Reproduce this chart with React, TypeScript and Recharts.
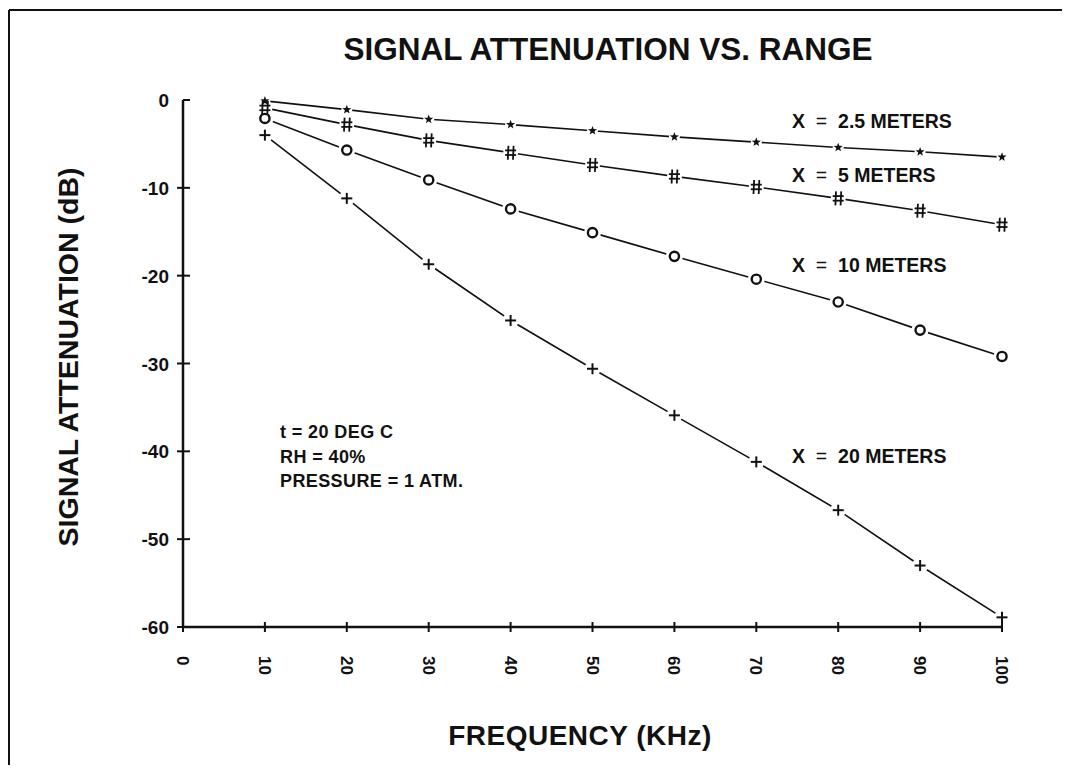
import React from 'react';
import { LineChart, Line, XAxis, YAxis } from 'recharts';

const frequencies = [10, 20, 30, 40, 50, 60, 70, 80, 90, 100];
const att2_5m = [-0.1, -1.1, -2.2, -2.8, -3.5, -4.2, -4.8, -5.4, -5.9, -6.5];
const att5m = [-0.9, -2.8, -4.6, -6.0, -7.4, -8.7, -9.9, -11.2, -12.6, -14.2];
const att10m = [-2.1, -5.7, -9.1, -12.4, -15.1, -17.8, -20.4, -23.0, -26.2, -29.2];
const att20m = [-4.0, -11.2, -18.7, -25.1, -30.6, -35.9, -41.2, -46.7, -53.0, -58.9];

const xTicks = [0, 10, 20, 30, 40, 50, 60, 70, 80, 90, 100];
const yTicks = [0, -10, -20, -30, -40, -50, -60];

const seriesLabels = ['2.5', '5', '10', '20'];
const notes = ['t = 20 DEG C', 'RH = 40%', 'PRESSURE = 1 ATM.'];

const data = frequencies.map((f, i) => ({
  f,
  a25: att2_5m[i],
  a5: att5m[i],
  a10: att10m[i],
  a20: att20m[i],
}));

const FONT = '"Liberation Sans", Arial, Helvetica, sans-serif';
const INK = '#111';

const W = 1054;
const H = 757;

function YTick(props: any) {
  const { x, y, payload } = props;
  const v = payload.value;
  return (
    <g>
      <line x1={v === 0 ? x : x - 6} x2={x + 7} y1={y} y2={y} stroke={INK} strokeWidth={2} />
      <text x={x - 14} y={y} dy={7} textAnchor="end" fontFamily={FONT} fontWeight="bold" fontSize={19} fill={INK}>
        {v}
      </text>
    </g>
  );
}

function XTick(props: any) {
  const { x, y, payload } = props;
  const v = payload.value;
  return (
    <g>
      <line x1={x} x2={x} y1={y - 5} y2={y + 5} stroke={INK} strokeWidth={2} />
      <text
        x={x}
        y={y + 29}
        transform={`rotate(90 ${x} ${y + 29})`}
        dy={6}
        textAnchor="start"
        fontFamily={FONT}
        fontWeight="bold"
        fontSize={17}
        fill={INK}
      >
        {v}
      </text>
    </g>
  );
}

function starPoints(cx: number, cy: number, ro: number, ri: number) {
  const pts: string[] = [];
  for (let k = 0; k < 10; k++) {
    const r = k % 2 === 0 ? ro : ri;
    const a = -Math.PI / 2 + (k * Math.PI) / 5;
    pts.push(`${cx + r * Math.cos(a)},${cy + r * Math.sin(a)}`);
  }
  return pts.join(' ');
}

const haloDot = (r: number, tag: string) => (p: any) => (
  <circle key={`${tag}-halo-${p.index}`} cx={p.cx} cy={p.cy} r={r} fill="#fff" stroke="none" />
);

const StarDot = (p: any) => {
  const { cx, cy, index } = p;
  return <polygon key={`star-${index}`} points={starPoints(cx, cy, 4.8, 2)} fill={INK} stroke="none" />;
};

const HashDot = (p: any) => {
  const { cx, cy, index } = p;
  return (
    <g key={`hash-${index}`} stroke={INK} strokeWidth={1.8} fill="none">
      <line x1={cx - 2.2} x2={cx - 2.8} y1={cy - 7} y2={cy + 7} />
      <line x1={cx + 3} x2={cx + 2.4} y1={cy - 7} y2={cy + 7} />
      <line x1={cx - 5.5} x2={cx + 5.5} y1={cy - 2.3} y2={cy - 2.3} />
      <line x1={cx - 5.5} x2={cx + 5.5} y1={cy + 2.3} y2={cy + 2.3} />
    </g>
  );
};

const CircleDot = (p: any) => {
  const { cx, cy, index } = p;
  return <circle key={`circ-${index}`} cx={cx} cy={cy} r={4.6} fill="#fff" stroke={INK} strokeWidth={2.4} />;
};

const PlusDot = (p: any) => {
  const { cx, cy, index } = p;
  return (
    <g key={`plus-${index}`} stroke={INK} strokeWidth={2}>
      <line x1={cx - 5.5} x2={cx + 5.5} y1={cy} y2={cy} />
      <line x1={cx} x2={cx} y1={cy - 5.5} y2={cy + 5.5} />
    </g>
  );
};

function Annotation({ x, y, value }: { x: number; y: number; value: string }) {
  return (
    <text x={x} y={y} fontFamily={FONT} fontWeight="bold" fontSize={19.5} fill={INK} style={{ whiteSpace: 'pre' }}>
      {'X  '}
      <tspan fontWeight="normal">=</tspan>
      {`  ${value} METERS`}
    </text>
  );
}

const series = [
  { key: 'a25', halo: 5.5, glyph: StarDot },
  { key: 'a5', halo: 7.5, glyph: HashDot },
  { key: 'a10', halo: 8.5, glyph: CircleDot },
  { key: 'a20', halo: 8, glyph: PlusDot },
];

export default function App() {
  return (
    <div style={{ position: 'relative', width: W, height: H, overflow: 'hidden', background: '#fff' }}>
      <LineChart
        width={W}
        height={H}
        data={data}
        margin={{ top: 92, right: 60, bottom: 38, left: 75 }}
      >
        <XAxis
          dataKey="f"
          type="number"
          domain={[0, 100]}
          ticks={xTicks}
          height={100}
          tickSize={0}
          tickMargin={0}
          tickLine={false}
          tick={<XTick />}
          axisLine={{ stroke: INK, strokeWidth: 2.5 }}
          interval={0}
        />
        <YAxis
          type="number"
          domain={[-60, 0]}
          ticks={yTicks}
          width={100}
          tickSize={0}
          tickMargin={0}
          tickLine={false}
          tick={<YTick />}
          axisLine={{ stroke: INK, strokeWidth: 2.5 }}
          interval={0}
        />
        {series.map((s) => (
          <Line
            key={`line-${s.key}`}
            dataKey={s.key}
            stroke={INK}
            strokeWidth={1.6}
            dot={haloDot(s.halo, s.key)}
            activeDot={false}
            isAnimationActive={false}
          />
        ))}
        {series.map((s) => (
          <Line
            key={`glyph-${s.key}`}
            dataKey={s.key}
            stroke="none"
            dot={s.glyph}
            activeDot={false}
            legendType="none"
            isAnimationActive={false}
          />
        ))}
      </LineChart>
      <svg
        width={W}
        height={H}
        style={{ position: 'absolute', left: 0, top: 0, pointerEvents: 'none' }}
      >
        <line x1={1} y1={2} x2={W} y2={2} stroke={INK} strokeWidth={2} />
        <line x1={1} y1={2} x2={1} y2={H} stroke={INK} strokeWidth={2} />
        <text x={600} y={52} textAnchor="middle" fontFamily={FONT} fontWeight="bold" fontSize={31.5} fill={INK}>
          SIGNAL ATTENUATION VS. RANGE
        </text>
        <text
          x={70}
          y={349}
          transform="rotate(-90 70 349)"
          textAnchor="middle"
          fontFamily={FONT}
          fontWeight="bold"
          fontSize={28.5}
          fill={INK}
        >
          SIGNAL ATTENUATION (dB)
        </text>
        <text x={572} y={737} textAnchor="middle" fontFamily={FONT} fontWeight="bold" fontSize={28} letterSpacing={0.5} fill={INK}>
          FREQUENCY (KHz)
        </text>
        <Annotation x={784} y={120} value={seriesLabels[0]} />
        <Annotation x={784} y={174} value={seriesLabels[1]} />
        <Annotation x={784} y={264} value={seriesLabels[2]} />
        <Annotation x={784} y={455} value={seriesLabels[3]} />
        {notes.map((n, i) => (
          <text key={n} x={272} y={430 + i * 24.5} fontFamily={FONT} fontWeight="bold" fontSize={18} letterSpacing={0.4} fill={INK}>
            {n}
          </text>
        ))}
      </svg>
    </div>
  );
}
